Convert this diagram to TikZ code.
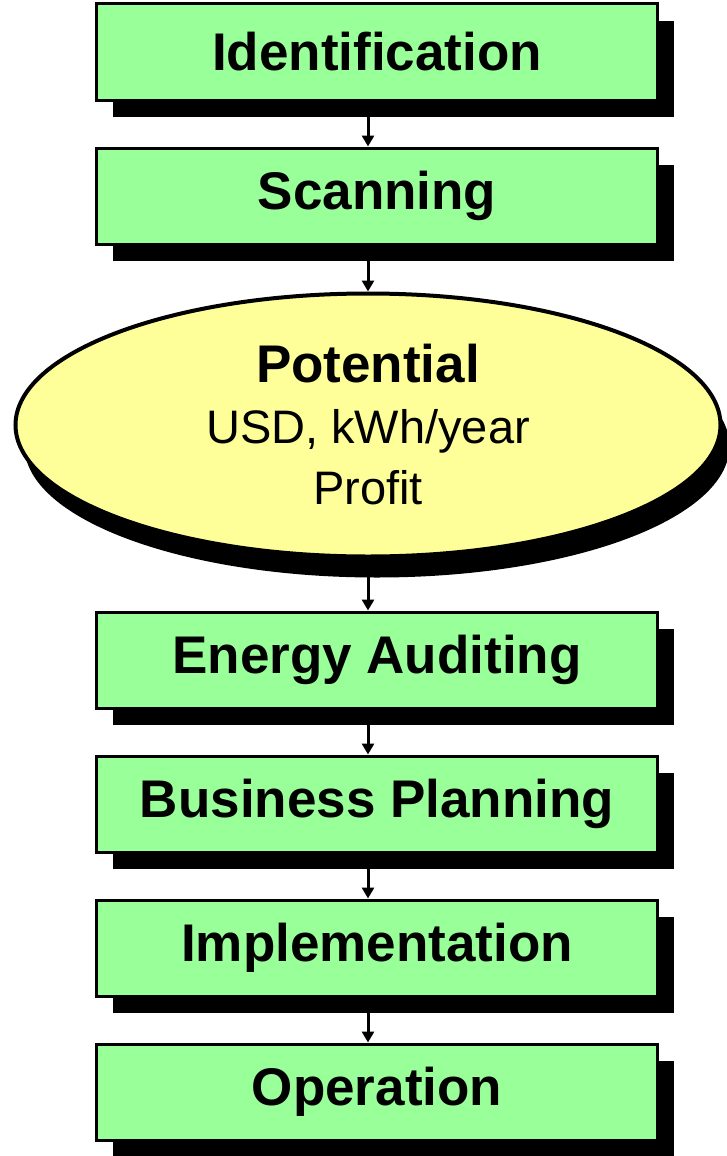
\documentclass[tikz,border=0pt]{standalone}
\usepackage{fontspec}
\setmainfont{Liberation Sans}
\usepackage{xcolor}
\usepackage{tikz}
\usetikzlibrary{arrows.meta,shapes.geometric,shadows}
\definecolor{stepgreen}{HTML}{99FF99}
\definecolor{potyellow}{HTML}{FFFF99}
\tikzset{
  stage/.style={draw, rectangle, line width=3pt, fill=stepgreen,
                minimum width=561pt, minimum height=96pt, inner sep=0pt,
                font=\fontsize{53}{60}\selectfont\bfseries,
                drop shadow={shadow xshift=16pt, shadow yshift=-17pt,
                             fill=black, opacity=1}},
  potnode/.style={draw, ellipse, line width=4pt, fill=potyellow,
                  minimum width=705pt, minimum height=263pt, inner sep=0pt,
                  align=center, font=\fontsize{47}{61}\selectfont,
                  drop shadow={shadow xshift=9pt, shadow yshift=-21pt,
                               fill=black, opacity=1}},
  flow/.style={line width=3pt, -{Triangle[length=11pt,width=12pt]}},
}
\begin{document}
\begin{tikzpicture}[x=1pt,y=-1pt]
  \useasboundingbox (0,0) rectangle (726,1156);
  \node[stage]   (ident) at (377,52)  {Identification};
  \node[stage]   (scan)  at (377,196) {Scanning};
  \node[potnode] (pot)   at (368,425) {\textbf{\fontsize{53}{61}\selectfont Potential}\\ USD, kWh/year\\ Profit};
  \node[stage]   (audit) at (377,660) {Energy Auditing};
  \node[stage]   (plan)  at (377,804) {Business Planning};
  \node[stage]   (impl)  at (377,948) {Implementation};
  \node[stage]   (oper)  at (377,1092) {Operation};
  \draw[flow] (ident.south -| pot) -- (scan.north -| pot);
  \draw[flow] (scan.south -| pot)  -- (pot.north);
  \draw[flow] (pot.south)          -- (audit.north -| pot);
  \draw[flow] (audit.south -| pot) -- (plan.north -| pot);
  \draw[flow] (plan.south -| pot)  -- (impl.north -| pot);
  \draw[flow] (impl.south -| pot)  -- (oper.north -| pot);
\end{tikzpicture}
\end{document}
